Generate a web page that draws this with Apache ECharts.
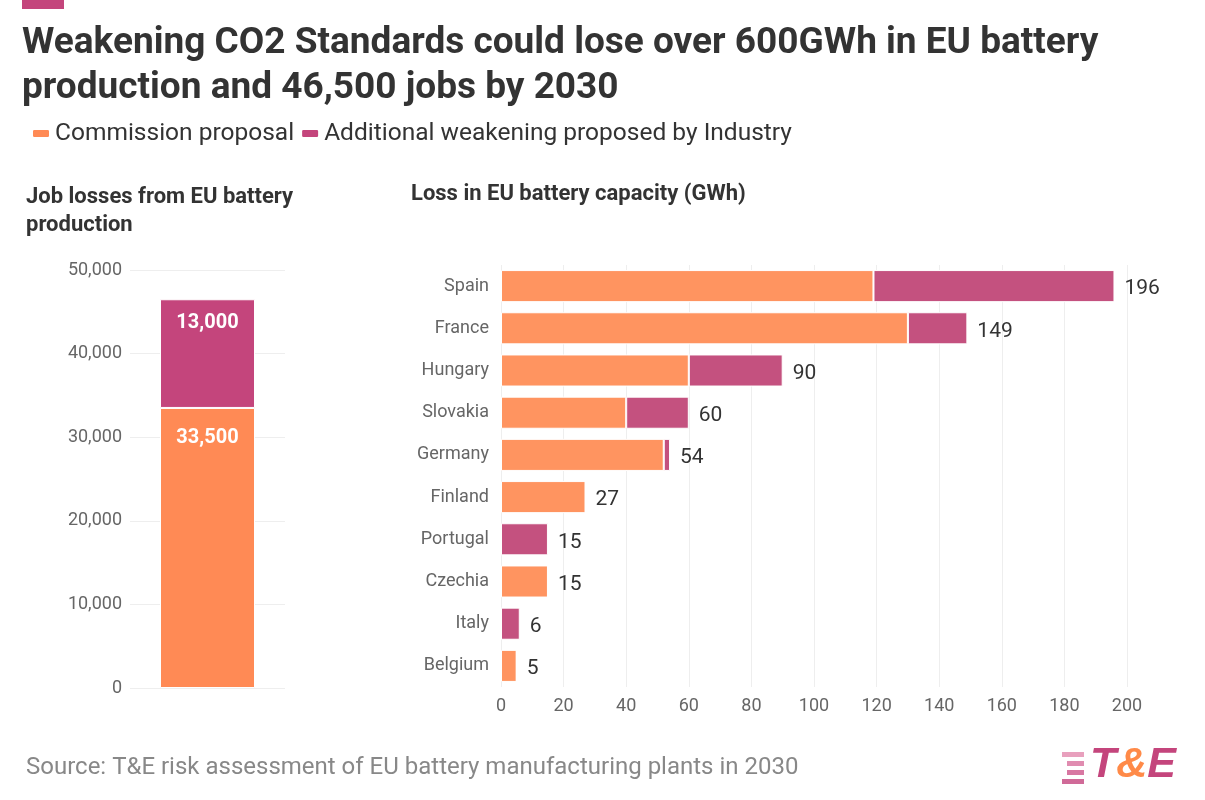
<!DOCTYPE html>
<html>
<head>
<meta charset="UTF-8">
<script src="https://cdn.jsdelivr.net/npm/echarts@6.0.0/dist/echarts.min.js"></script>
<style>
  body { margin: 0; background: #fff; }
  #chart { width: 1205px; height: 800px; }
</style>
</head>
<body>
<div id="chart"></div>
<script>
// data
var countries = ['Spain', 'France', 'Hungary', 'Slovakia', 'Germany', 'Finland', 'Portugal', 'Czechia', 'Italy', 'Belgium'];
var commission = [119, 130, 60, 40, 52, 27, 0, 15, 0, 5];
var additional = [77, 19, 30, 20, 2, 0, 15, 0, 6, 0];
var totals = [196, 149, 90, 60, 54, 27, 15, 15, 6, 5];
var jobsCommission = [33500];
var jobsAdditional = [13000];

var ORANGE = '#ff9460';
var PINK = '#c4517f';
var font = 'Roboto';

var chart = echarts.init(document.getElementById('chart'));
var option = {
  textStyle: { fontFamily: font },
  animation: false,
  title: [
    { text: 'Weakening CO2 Standards could lose over 600GWh in EU battery\nproduction and 46,500 jobs by 2030', left: 17, top: 16,
      textStyle: { fontSize: 37, fontWeight: 'bold', color: '#333', lineHeight: 45 } },
    { text: 'Job losses from EU battery\nproduction', left: 21, top: 178,
      textStyle: { fontSize: 22, fontWeight: 'bold', color: '#333', lineHeight: 28 } },
    { text: 'Loss in EU battery capacity (GWh)', left: 406, top: 178,
      textStyle: { fontSize: 22, fontWeight: 'bold', color: '#333' } },
    { text: 'Source: T&E risk assessment of EU battery manufacturing plants in 2030', left: 21, top: 751,
      textStyle: { fontSize: 24, fontWeight: 'normal', color: '#888' } }
  ],
  legend: {
    left: 26, top: 116, itemWidth: 18, itemHeight: 9, itemGap: 6, icon: 'roundRect',
    textStyle: { fontSize: 24.5, color: '#333' },
    data: ['Commission proposal', 'Additional weakening proposed by Industry']
  },
  grid: [
    { left: 130, top: 270, width: 155, height: 418 },
    { left: 501, top: 265, width: 626, height: 422 }
  ],
  xAxis: [
    { gridIndex: 0, type: 'category', data: [''], axisLine: { show: false }, axisTick: { show: false }, axisLabel: { show: false } },
    { gridIndex: 1, type: 'value', min: 0, max: 200, interval: 20,
      axisLabel: { fontSize: 18, color: '#666', margin: 10 },
      splitLine: { lineStyle: { color: '#eee' } } }
  ],
  yAxis: [
    { gridIndex: 0, type: 'value', min: 0, max: 50000, interval: 10000,
      axisLabel: { fontSize: 18, color: '#666', formatter: function (v) { return v.toLocaleString('en-US'); } },
      splitLine: { lineStyle: { color: '#eee' } } },
    { gridIndex: 1, type: 'category', data: countries, inverse: true,
      axisLine: { show: false }, axisTick: { show: false },
      axisLabel: { fontSize: 18, color: '#666', margin: 12 } }
  ],
  series: [
    { name: 'Commission proposal', type: 'bar', xAxisIndex: 0, yAxisIndex: 0, stack: 'jobs', barWidth: 95,
      data: jobsCommission, itemStyle: { color: '#ff8a55', borderColor: '#fff', borderWidth: 1 },
      label: { show: true, position: 'insideTop', distance: 20, color: '#fff', fontSize: 20, fontWeight: 'bold',
        formatter: function (p) { return p.value.toLocaleString('en-US'); } } },
    { name: 'Additional weakening proposed by Industry', type: 'bar', xAxisIndex: 0, yAxisIndex: 0, stack: 'jobs', barWidth: 95,
      data: jobsAdditional, itemStyle: { color: '#c4457c', borderColor: '#fff', borderWidth: 1 },
      label: { show: true, position: 'insideTop', distance: 14, color: '#fff', fontSize: 20, fontWeight: 'bold',
        formatter: function (p) { return p.value.toLocaleString('en-US'); } } },
    { name: 'Commission proposal', type: 'bar', xAxisIndex: 1, yAxisIndex: 1, stack: 'gwh', barCategoryGap: '24%',
      data: commission, itemStyle: { color: ORANGE, borderColor: '#fff', borderWidth: 1 } },
    { name: 'Additional weakening proposed by Industry', type: 'bar', xAxisIndex: 1, yAxisIndex: 1, stack: 'gwh', barCategoryGap: '24%',
      data: additional, itemStyle: { color: PINK, borderColor: '#fff', borderWidth: 1 } },
    { name: 'total', type: 'bar', xAxisIndex: 1, yAxisIndex: 1, barGap: '-100%', barCategoryGap: '24%', silent: true,
      data: totals, itemStyle: { color: 'rgba(0,0,0,0)' }, z: 1,
      label: { show: true, position: 'right', distance: 10, offset: [0, 3], color: '#333', fontSize: 21 } }
  ],
  graphic: [
    { type: 'rect', left: 22, top: 0, shape: { width: 42, height: 9 }, style: { fill: '#c4457c' } },
    { type: 'rect', left: 1062, top: 752, shape: { width: 22, height: 5 }, style: { fill: '#e8a0bd' } },
    { type: 'rect', left: 1067, top: 761, shape: { width: 17, height: 5 }, style: { fill: '#e08cb0' } },
    { type: 'rect', left: 1067, top: 770, shape: { width: 17, height: 5 }, style: { fill: '#d877a2' } },
    { type: 'rect', left: 1062, top: 779, shape: { width: 22, height: 5 }, style: { fill: '#d06a98' } },
    { type: 'text', left: 1090, top: 744, style: {
        text: '{a|T}{b|&}{a|E}', fontFamily: font,
        rich: { a: { fontSize: 43, fontWeight: 'bold', fontStyle: 'italic', fill: '#c4457c' },
                b: { fontSize: 43, fontWeight: 'bold', fontStyle: 'italic', fill: '#ff8a48' } } } }
  ]
};
chart.setOption(option);
</script>
</body>
</html>
